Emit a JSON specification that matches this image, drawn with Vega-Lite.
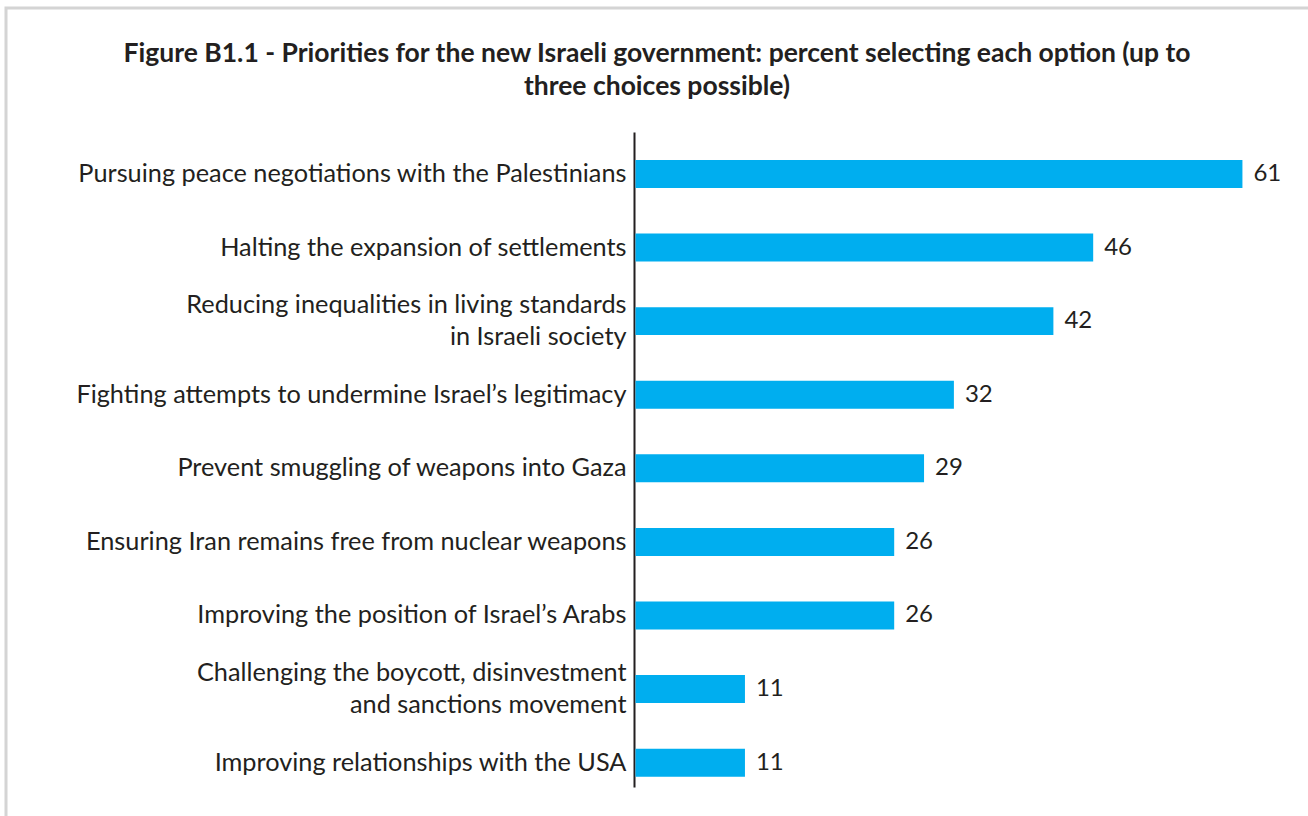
{
  "$schema": "https://vega.github.io/schema/vega-lite/v6.json",
  "autosize": "none",
  "padding": {"left": 6, "top": 8, "right": 0, "bottom": 0},
  "width": 1302,
  "height": 808,
  "background": "white",
  "config": {
    "view": {"stroke": "#d4d4d4", "strokeWidth": 3, "strokeDash": [1302, 2110, 808]},
    "font": "Lato"
  },
  "title": {
    "text": ["Figure B1.1 - Priorities for the new Israeli government: percent selecting each option (up to", "three choices possible)"],
    "anchor": "middle",
    "frame": "group",
    "baseline": "top",
    "offset": -92,
    "font": "Lato",
    "fontSize": 26.5,
    "fontWeight": "bold",
    "lineHeight": 33,
    "color": "#231f20"
  },
  "data": {
    "values": [
      {"option": "Pursuing peace negotiations with the Palestinians", "pct": 61},
      {"option": "Halting the expansion of settlements", "pct": 46},
      {"option": "Reducing inequalities in living standards|in Israeli society", "pct": 42},
      {"option": "Fighting attempts to undermine Israel’s legitimacy", "pct": 32},
      {"option": "Prevent smuggling of weapons into Gaza", "pct": 29},
      {"option": "Ensuring Iran remains free from nuclear weapons", "pct": 26},
      {"option": "Improving the position of Israel’s Arabs", "pct": 26},
      {"option": "Challenging the boycott, disinvestment|and sanctions movement", "pct": 11},
      {"option": "Improving relationships with the USA", "pct": 11}
    ]
  },
  "encoding": {
    "y": {
      "field": "option",
      "type": "nominal",
      "sort": null,
      "scale": {"range": [124, 779], "paddingInner": 0.62, "paddingOuter": 0.26, "align": 0.73},
      "axis": {
        "title": null,
        "offset": -628,
        "ticks": false,
        "grid": false,
        "domainColor": "#231f20",
        "domainWidth": 2,
        "labelFont": "Lato",
        "labelFontSize": 25.3,
        "labelColor": "#231f20",
        "labelPadding": 8,
        "labelLimit": 700,
        "labelLineHeight": 32,
        "labelOffset": {"condition": {"test": "indexof(datum.value, '|') >= 0", "value": -16}, "value": 0},
        "labelExpr": "split(datum.label, '|')"
      }
    },
    "x": {
      "field": "pct",
      "type": "quantitative",
      "scale": {"domain": [-63.27, 67.59], "nice": false, "zero": false},
      "axis": null
    }
  },
  "layer": [
    {"mark": {"type": "bar", "color": "#00aeef"}},
    {
      "mark": {"type": "text", "align": "left", "baseline": "middle", "dx": 11, "fontSize": 24, "font": "Lato", "color": "#231f20"},
      "encoding": {"text": {"field": "pct", "type": "quantitative"}}
    }
  ]
}
